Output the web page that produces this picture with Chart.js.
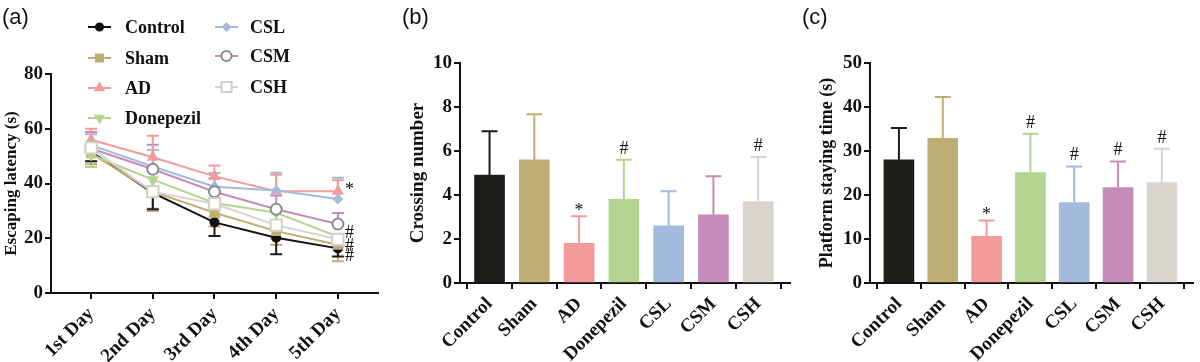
<!DOCTYPE html>
<html>
<head>
<meta charset="utf-8">
<script src="https://cdn.jsdelivr.net/npm/chart.js@4"></script>
<style>
  body { margin: 0; background: #fff; }
  .panel { position: absolute; top: 0; width: 400px; height: 362px; }
  .tag { position: absolute; top: 4px; left: 2px; font: 22px "Liberation Sans", Arial, sans-serif; color: #111; }
</style>
</head>
<body>
<div class="panel" style="left:0"><canvas id="chartA" width="400" height="362"></canvas><div class="tag">(a)</div></div>
<div class="panel" style="left:400px"><canvas id="chartB" width="400" height="362"></canvas><div class="tag">(b)</div></div>
<div class="panel" style="left:800px"><canvas id="chartC" width="400" height="362"></canvas><div class="tag">(c)</div></div>
<script>
const days = ["1st Day", "2nd Day", "3rd Day", "4th Day", "5th Day"];
const groups = ["Control", "Sham", "AD", "Donepezil", "CSL", "CSM", "CSH"];

// escaping latency (s), mean per day
const latControl = [51.6, 36.6, 25.8, 20.2, 16.3];
const latSham = [51.0, 37.0, 29.3, 22.6, 17.6];
const latAD = [56.0, 49.6, 42.6, 37.2, 37.2];
const latDonepezil = [50.5, 41.4, 32.9, 29.3, 20.6];
const latCSL = [54.0, 46.2, 38.8, 37.4, 34.3];
const latCSM = [52.8, 45.2, 37.0, 30.6, 25.2];
const latCSH = [53.0, 37.0, 32.6, 24.8, 19.6];

// escaping latency SD
const sdControl = [3.5, 6, 5, 6, 3];
const sdSham = [4, 7, 5, 5, 6];
const sdAD = [4, 7.8, 4, 6, 4];
const sdDonepezil = [4.5, 6, 5, 5, 4];
const sdCSL = [4, 6, 5, 6.5, 7.8];
const sdCSM = [6, 9, 5, 5, 4];
const sdCSH = [5, 6, 5, 5, 4];

// crossing number
const crossing = [4.9, 5.6, 1.8, 3.8, 2.6, 3.1, 3.7];
const crossingSD = [2.0, 2.07, 1.23, 1.8, 1.57, 1.75, 2.03];
const crossingMarks = ["", "", "*", "#", "", "", "#"];

// platform staying time (s)
const staying = [28.0, 32.9, 10.6, 25.1, 18.3, 21.7, 22.8];
const stayingSD = [7.2, 9.4, 3.6, 8.8, 8.2, 5.9, 7.7];
const stayingMarks = ["", "", "*", "#", "#", "#", "#"];

// significance marks on the 5th day of panel (a)
const day5Marks = ["*", "#", "#", "#"];
const day5MarkValues = [37.6, 21.9, 17.2, 13.3];

const colors = ["#1c1c18", "#bfae73", "#f29b9a", "#b2d490", "#a3badf", "#c58bb9", "#d9d4ce"];
const serif = "'Liberation Serif', 'Times New Roman', serif";
const tickFont = { family: serif, size: 19, weight: "bold" };

const latMeans = [latControl, latSham, latAD, latDonepezil, latCSL, latCSM, latCSH];
const latSDs = [sdControl, sdSham, sdAD, sdDonepezil, sdCSL, sdCSM, sdCSH];
const errDir = [-1, -1, 1, -1, 1, 1, -1];

const markers = [
  { pointStyle: "circle", pointRadius: 4, pointBackgroundColor: "#111", pointBorderColor: "#111" },
  { pointStyle: "rect", pointRadius: 5.5, pointBackgroundColor: colors[1], pointBorderColor: colors[1] },
  { pointStyle: "triangle", pointRadius: 5, pointBackgroundColor: colors[2], pointBorderColor: colors[2] },
  { pointStyle: "triangle", pointRotation: 180, pointRadius: 5, pointBackgroundColor: colors[3], pointBorderColor: colors[3] },
  { pointStyle: "rectRot", pointRadius: 4, pointBackgroundColor: colors[4], pointBorderColor: colors[4] },
  { pointStyle: "circle", pointRadius: 5.5, pointBackgroundColor: "#fff", pointBorderColor: "#8c8c8c" },
  { pointStyle: "rect", pointRadius: 8, pointBackgroundColor: "#fff", pointBorderColor: "#d3cfc9" }
];

function axisStyle() {
  return {
    border: { color: "#111", width: 2 },
    grid: { drawOnChartArea: false, drawTicks: true, tickLength: 6, color: "#111", lineWidth: 2 },
    ticks: { color: "#111", font: tickFont, padding: 2 }
  };
}

// error bars for the line chart
const lineErrors = {
  id: "lineErrors",
  beforeDatasetsDraw(chart) {
    const ctx = chart.ctx;
    const x = chart.scales.x, y = chart.scales.y;
    ctx.save();
    ctx.lineWidth = 2;
    for (let s = latMeans.length - 1; s >= 0; s--) {
      ctx.strokeStyle = colors[s];
      latMeans[s].forEach((m, i) => {
        const px = x.getPixelForValue(i);
        const y0 = y.getPixelForValue(m);
        const y1 = y.getPixelForValue(m + errDir[s] * latSDs[s][i]);
        ctx.beginPath();
        ctx.moveTo(px, y0); ctx.lineTo(px, y1);
        ctx.moveTo(px - 6, y1); ctx.lineTo(px + 6, y1);
        ctx.stroke();
      });
    }
    ctx.restore();
  },
  afterDatasetsDraw(chart) {
    const ctx = chart.ctx;
    const x = chart.scales.x, y = chart.scales.y;
    ctx.save();
    ctx.fillStyle = "#111";
    ctx.font = "18px " + serif;
    ctx.textBaseline = "middle";
    day5Marks.forEach((t, i) => {
      ctx.fillText(t, x.getPixelForValue(4) + 7, y.getPixelForValue(day5MarkValues[i]));
    });

    // legend, two columns
    ctx.font = "bold 18px " + serif;
    const cols = [{ x: 88, ys: [27, 58, 88, 118] }, { x: 215, ys: [27, 56, 87] }];
    const textX = [125, 250];
    let k = 0;
    cols.forEach((c, ci) => {
      c.ys.forEach((ly) => {
        const ds = chart.data.datasets[k];
        ctx.strokeStyle = ds.borderColor;
        ctx.lineWidth = 2;
        ctx.beginPath();
        ctx.moveTo(c.x, ly); ctx.lineTo(c.x + 23, ly);
        ctx.stroke();
        ctx.fillStyle = ds.pointBackgroundColor;
        ctx.strokeStyle = ds.pointBorderColor;
        Chart.helpers.drawPoint(ctx, {
          pointStyle: ds.pointStyle, radius: ds.pointRadius * 0.9,
          rotation: ds.pointRotation || 0, borderWidth: 2
        }, c.x + 11.5, ly);
        ctx.fillStyle = "#111";
        ctx.fillText(ds.label, textX[ci], ly + 1);
        k++;
      });
    });
    ctx.restore();
  }
};

new Chart(document.getElementById("chartA"), {
  type: "line",
  data: {
    datasets: groups.map((g, s) => Object.assign({
      label: g,
      data: latMeans[s].map((v, i) => ({ x: i, y: v })),
      borderColor: s === 0 ? "#111" : colors[s],
      borderWidth: 2,
      pointBorderWidth: 2,
      order: 6 - s
    }, markers[s]))
  },
  options: {
    responsive: false,
    devicePixelRatio: 1,
    animation: false,
    layout: { padding: { top: 74, right: 22, left: 0, bottom: 0 } },
    plugins: { legend: { display: false }, tooltip: { enabled: false } },
    scales: {
      x: Object.assign(axisStyle(), {
        type: "linear", min: -0.65, max: 4.65,
        afterBuildTicks: (s) => { s.ticks = days.map((d, i) => ({ value: i })); },
        afterFit: (s) => { s.height = 69; },
        ticks: { color: "#111", font: tickFont, padding: 4, minRotation: 45, maxRotation: 45,
          callback: (v) => days[v] }
      }),
      y: Object.assign(axisStyle(), {
        min: 0, max: 80,
        ticks: { color: "#111", font: tickFont, padding: 2, stepSize: 20 },
        afterFit: (s) => { s.width = 51; },
        title: { display: true, text: "Escaping latency (s)", color: "#111",
          font: { family: serif, size: 17, weight: "bold" }, padding: { top: 1, bottom: 0 } }
      })
    }
  },
  plugins: [lineErrors]
});

function barErrors(sd, marks) {
  return {
    id: "barErrors",
    beforeDatasetsDraw(chart) {
      const ctx = chart.ctx;
      const x = chart.scales.x, y = chart.scales.y;
      const means = chart.data.datasets[0].data;
      ctx.save();
      ctx.lineWidth = 2;
      ctx.fillStyle = "#111";
      ctx.font = "18px " + serif;
      ctx.textAlign = "center";
      ctx.textBaseline = "bottom";
      means.forEach((p, i) => {
        const px = x.getPixelForValue(p.x);
        const y0 = y.getPixelForValue(p.y);
        const y1 = y.getPixelForValue(p.y + sd[i]);
        ctx.strokeStyle = colors[i];
        ctx.beginPath();
        ctx.moveTo(px, y0); ctx.lineTo(px, y1);
        ctx.moveTo(px - 8, y1); ctx.lineTo(px + 8, y1);
        ctx.stroke();
        if (marks[i]) ctx.fillText(marks[i], px, y1 - 2 + (marks[i] === "*" ? 6 : 0));
      });
      ctx.restore();
    }
  };
}

function barChart(id, values, sd, marks, yMax, step, title, titleSize, titlePad, left, right) {
  new Chart(document.getElementById(id), {
    type: "bar",
    data: {
      datasets: [{
        data: values.map((v, i) => ({ x: i, y: v })),
        backgroundColor: colors,
        barThickness: 30
      }]
    },
    options: {
      responsive: false,
      devicePixelRatio: 1,
      animation: false,
      layout: { padding: { top: 63, right: right, left: 0, bottom: 0 } },
      plugins: { legend: { display: false }, tooltip: { enabled: false } },
      scales: {
        x: Object.assign(axisStyle(), {
          type: "linear", min: -0.66, max: 6.71, offset: false,
          afterBuildTicks: (s) => { s.ticks = groups.map((g, i) => ({ value: i })); },
          afterFit: (s) => { s.height = 79; },
          ticks: { color: "#111", font: tickFont, padding: 4, minRotation: 45, maxRotation: 45,
            callback: (v) => groups[v] }
        }),
        y: Object.assign(axisStyle(), {
          min: 0, max: yMax,
          ticks: { color: "#111", font: tickFont, padding: 2, stepSize: step },
          afterFit: (s) => { s.width = left; },
          title: { display: true, text: title, color: "#111",
            font: { family: serif, size: titleSize, weight: "bold" }, padding: { top: titlePad, bottom: 0 } }
        })
      }
    },
    plugins: [barErrors(sd, marks)]
  });
}

barChart("chartB", crossing, crossingSD, crossingMarks, 10, 2, "Crossing number", 19, 7, 60, 10);
barChart("chartC", staying, stayingSD, stayingMarks, 50, 10, "Platform staying time (s)", 18, 17, 70, 7);
</script>
</body>
</html>
